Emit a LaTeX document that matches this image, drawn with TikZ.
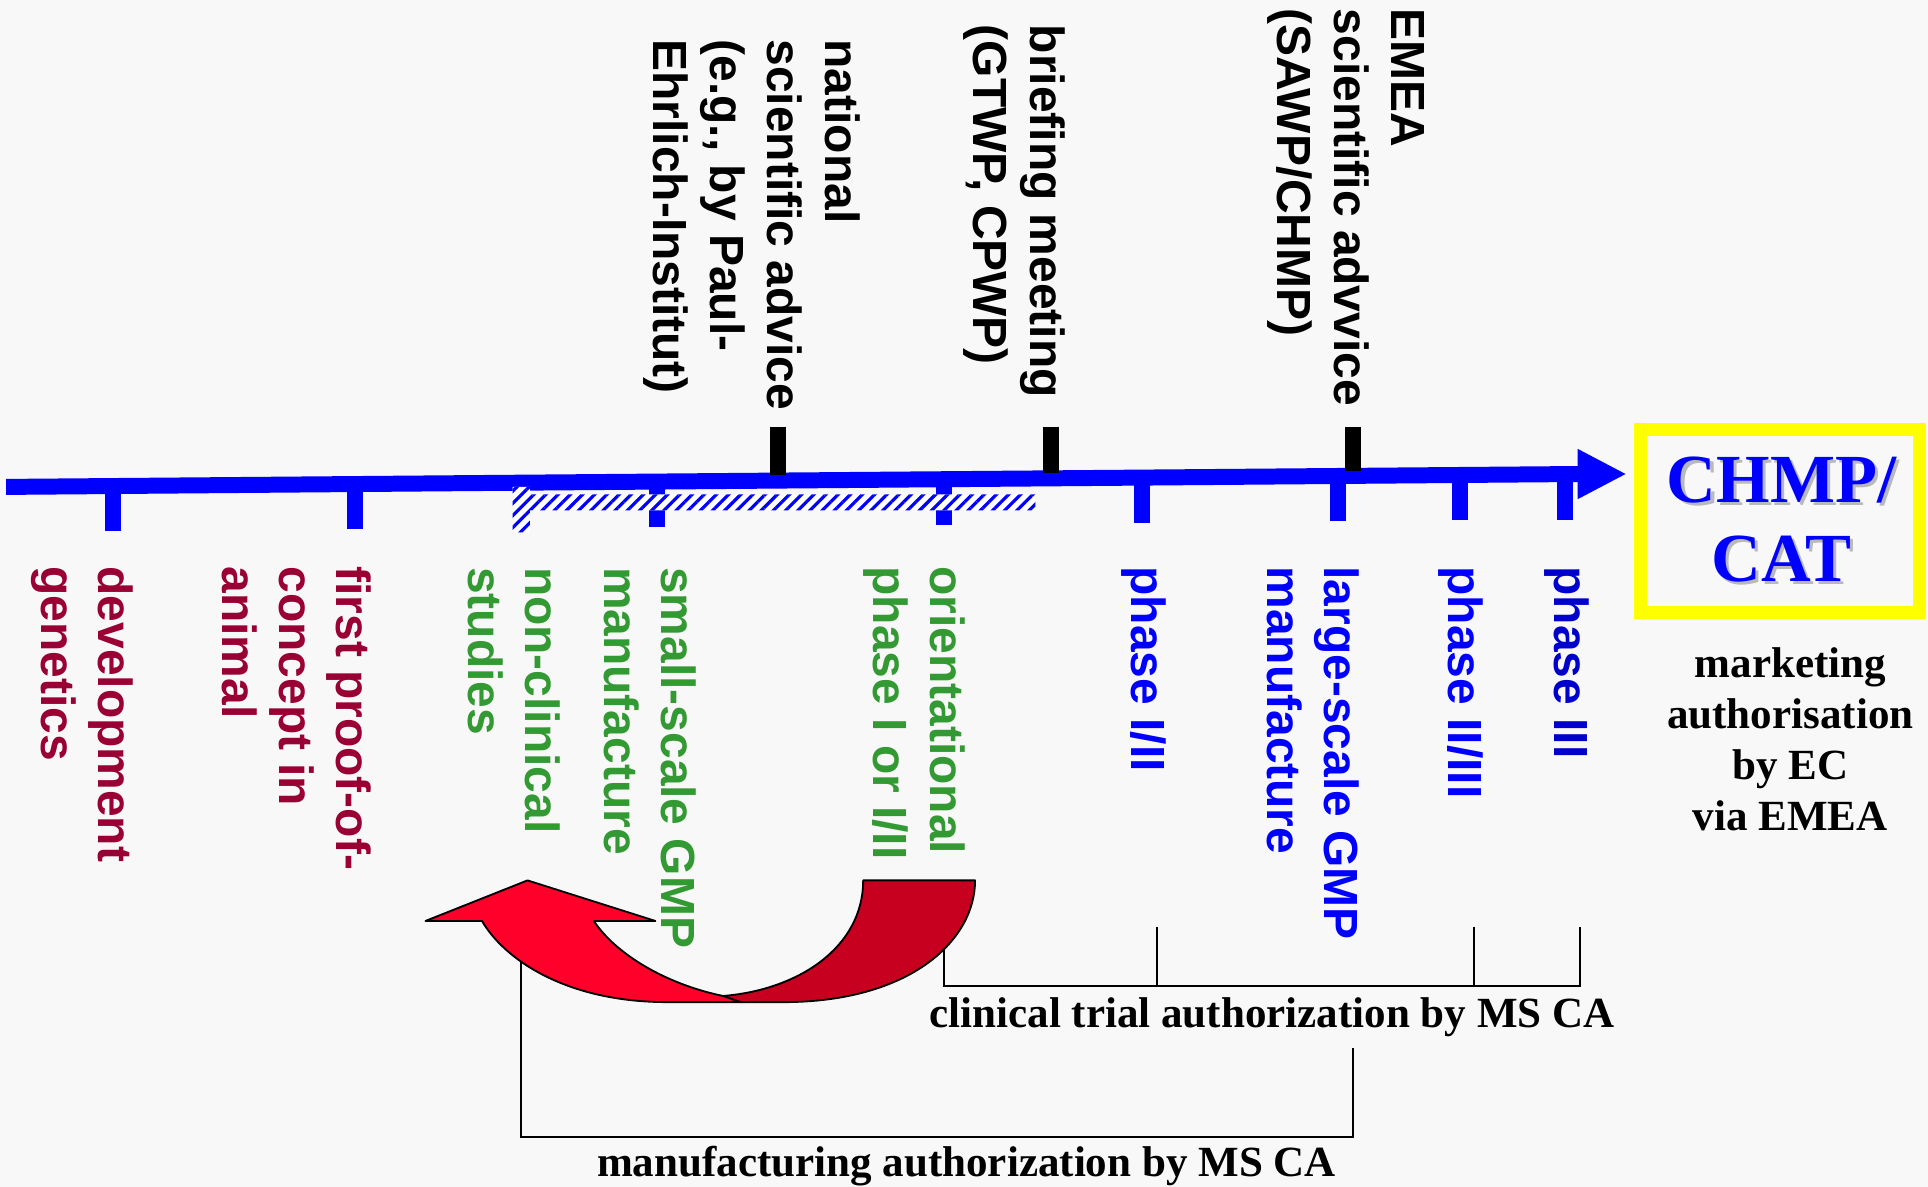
\documentclass[tikz,border=0pt]{standalone}
\usepackage{fontspec}
\setmainfont{Liberation Serif}
\newfontfamily\labelsans{Liberation Sans}
\usetikzlibrary{patterns.meta}

\definecolor{bg}{RGB}{248,248,248}
\definecolor{axisblue}{RGB}{0,0,255}
\definecolor{darkrose}{RGB}{153,0,51}
\definecolor{leafgreen}{RGB}{51,153,51}
\definecolor{deepblue}{RGB}{0,0,205}
\definecolor{arrowred}{RGB}{255,0,42}
\definecolor{arrowdark}{RGB}{200,0,32}
\definecolor{framey}{RGB}{255,255,0}
\definecolor{shade}{RGB}{185,185,185}

% stacked lines; the baseline of the stack is that of its first line
\newcommand{\leftrows}[1]{\vtop{\halign{##\hfil\cr#1\crcr}}}
\newcommand{\midrows}[1]{\vtop{\halign{\hfil##\hfil\cr#1\crcr}}}

\tikzset{
  vlabel/.style={rotate=-90, anchor=base west, inner sep=0pt,
    font=\labelsans\bfseries\fontsize{39}{46.5}\selectfont},
  serifnote/.style={anchor=base, inner sep=0pt,
    font=\bfseries\fontsize{35}{41.5}\selectfont},
  bigtitle/.style={anchor=base, inner sep=0pt,
    font=\bfseries\fontsize{56}{64}\selectfont},
  uptick/.style={line width=13pt, black},
  downtick/.style={line width=13pt, axisblue},
  bracket/.style={line width=1.6pt, black},
  ribbon/.style={draw=black, line width=1.5pt, line join=round},
}

\begin{document}
\begin{tikzpicture}[x=1pt, y=-1pt]
  \fill[bg] (0,0) rectangle (1568,965);
  \useasboundingbox (0,0) rectangle (1568,965);

  % authorization brackets
  \draw[bracket] (767.5,753.6) -- (767.5,802) -- (1284.6,802) -- (1284.6,753.6);
  \draw[bracket] (940.7,753.6) -- (940.7,802);
  \draw[bracket] (1198.5,753.6) -- (1198.5,802);
  \draw[bracket] (1100.5,852) -- (1100.5,925) -- (424,925) -- (424,760);

  % time axis
  \draw[line width=13pt, axisblue] (5,396) -- (1284,385.5);
  \fill[axisblue] (1283,365) -- (1322,385.5) -- (1283,406) -- cycle;

  % milestones below the axis
  \foreach \x/\yc in {92/395.2, 289/393.6, 534/391.6, 768/389.7,
                      928.7/388.4, 1088/387.1, 1187/386.3, 1273/385.6}
    \draw[downtick] (\x,\yc) -- (\x,\yc+37);

  % hatched early-development span
  \fill[white] (417,396) -- (431,396) -- (431,402) -- (842,402) -- (842,415)
    -- (431,415) -- (431,433) -- (417,433) -- cycle;
  \fill[pattern={Lines[angle=45,distance=7pt,line width=2.6pt]}, pattern color=axisblue]
    (417,396) -- (431,396) -- (431,402) -- (842,402) -- (842,415)
    -- (431,415) -- (431,433) -- (417,433) -- cycle;

  % advice milestones above the axis
  \draw[uptick] (632.7,347) -- (632.7,386);
  \draw[uptick] (855,347) -- (855,384.5);
  \draw[uptick] (1100,347) -- (1100,383);

  % turning arrow back to the non-clinical stage
  \filldraw[ribbon, fill=arrowdark] (702,716) -- (793,716)
    .. controls (793,765) and (740,815) .. (637,815) -- (602,815) -- (588,810)
    .. controls (650,805) and (702,770) .. (702,716) -- cycle;
  \filldraw[ribbon, fill=arrowred] (429,716) -- (533,749) -- (483,749)
    .. controls (500,775) and (540,800) .. (588,810) -- (602,815) -- (543,815)
    .. controls (460,815) and (410,780) .. (392,749) -- (346,749) -- cycle;

  % labels below the axis
  \node[vlabel, darkrose] (devgen) at (80,460.5) {\leftrows{development\cr genetics}};
  \node[vlabel, darkrose] (proof) at (274,460.5) {\leftrows{first proof-of-\cr concept in\cr animal}};
  \node[vlabel, leafgreen] (nonclin) at (427.5,461) {\leftrows{non-clinical\cr studies}};
  \node[vlabel, leafgreen] (smallgmp) at (538,461) {\leftrows{small-scale GMP\cr manufacture}};
  \node[vlabel, leafgreen] (orient) at (757,460.5) {\leftrows{orientational\cr phase I or I/II}};
  \node[vlabel, axisblue] (ph12) at (920,460.5) {phase I/II};
  \node[vlabel, axisblue] (largegmp) at (1077,460.5) {\leftrows{large-scale GMP\cr manufacture}};
  \node[vlabel, axisblue] (ph23) at (1178,460.5) {phase II/III};
  \node[vlabel, deepblue] (ph3) at (1264,460.5) {phase III};

  % labels above the axis
  \node[vlabel, black] (natadv) at (671,32) {\leftrows{national\cr scientific advice\cr (e.g., by Paul-\cr Ehrlich-Institut)}};
  \node[vlabel, black] (brief) at (838,20) {\leftrows{briefing meeting\cr (GTWP, CPWP)}};
  \node[vlabel, black] (emea) at (1132,7) {\leftrows{EMEA\cr scientific advvice\cr (SAWP/CHMP)}};

  % final authority
  \node[draw=framey, line width=10.5pt, minimum width=226.5pt, minimum height=149pt,
        inner sep=0pt] (chmp) at (1447.75,423.5) {};
  \node[bigtitle, text=shade] (chmpshadow) at (1451.5,411.5) {\midrows{CHMP/\cr CAT}};
  \node[bigtitle, text=axisblue] (chmptext) at (1449,409) {\midrows{CHMP/\cr CAT}};
  \node[serifnote] (market) at (1456,550.6) {\midrows{marketing\cr authorisation\cr by EC\cr via EMEA}};

  % bracket captions
  \node[serifnote] (ctalabel) at (1034.5,836) {clinical trial authorization by MS CA};
  \node[serifnote] (malabel) at (786,957) {manufacturing authorization by MS CA};
\end{tikzpicture}
\end{document}
